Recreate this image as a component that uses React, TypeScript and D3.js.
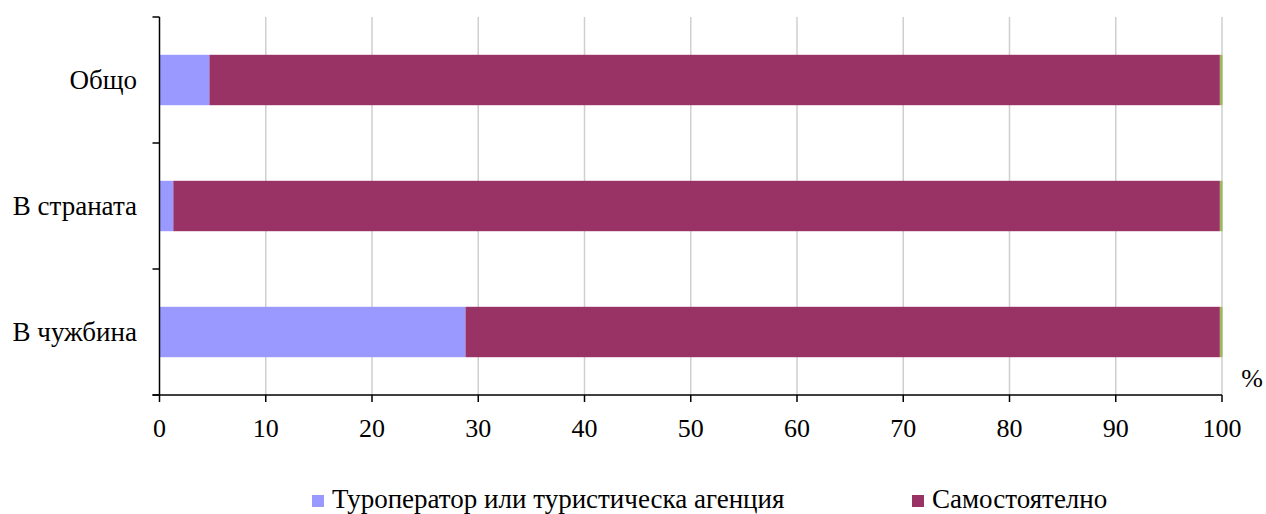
import React from "react";
import * as d3 from "d3";

const categories = ["Общо", "В страната", "В чужбина"];
const seriesNames = ["Туроператор или туристическа агенция", "Самостоятелно", "Друго"];
const touroperator = [4.7, 1.3, 28.8];
const independent = [95.1, 98.5, 71.0];
const other = [0.25, 0.25, 0.25];
const xTicks = [0, 10, 20, 30, 40, 50, 60, 70, 80, 90, 100];
const colors = ["#9999FF", "#993366", "#9BBB59"];

const W = 1266;
const H = 514;
const left = 159.5;
const right = 1222;
const top = 17;
const bottom = 395;
const FONT = "Liberation Serif";

export default function App() {
  const x = d3.scaleLinear().domain([0, 100]).range([left, right]);
  const y = d3.scaleBand<string>().domain(categories).range([top, bottom]).paddingInner(0.6).paddingOuter(0.3);
  const band = d3.scaleBand<string>().domain(categories).range([top, bottom]);
  const rows = categories.map((c, i) => ({ c, vals: [touroperator[i], independent[i], other[i]] }));
  const stacked = rows.map((r) => {
    let acc = 0;
    return r.vals.map((v, k) => {
      const s = acc;
      acc += v;
      return { cat: r.c, k, x0: s, x1: acc };
    });
  });
  const sepTicks = [top, ...categories.map((c) => (band(c) as number) + band.bandwidth())];

  return (
    <svg width={W} height={H} fontFamily={FONT} style={{ position: "absolute", left: 0, top: 0, background: "#fff" }}>
      {xTicks.slice(1).map((t) => (
        <line key={"g" + t} x1={x(t)} x2={x(t)} y1={top} y2={bottom} stroke="#cfcfcf" strokeWidth={1.5} />
      ))}
      {stacked.map((segs) =>
        segs.map((s) => (
          <rect
            key={s.cat + s.k}
            x={x(s.x0)}
            width={x(s.x1) - x(s.x0)}
            y={y(s.cat)}
            height={y.bandwidth()}
            fill={colors[s.k]}
          />
        ))
      )}
      <line x1={left} x2={left} y1={top} y2={bottom} stroke="#000" strokeWidth={1.5} />
      {sepTicks.map((t, i) => (
        <line key={"yt" + i} x1={left - 7} x2={left} y1={t} y2={t} stroke="#000" strokeWidth={1.5} />
      ))}
      <line x1={left - 7} x2={right} y1={bottom} y2={bottom} stroke="#000" strokeWidth={1.5} />
      {xTicks.map((t) => (
        <g key={"xt" + t}>
          <line x1={x(t)} x2={x(t)} y1={bottom} y2={bottom + 7} stroke="#000" strokeWidth={1.5} />
          <text x={x(t)} y={437} textAnchor="middle" fontSize={26} fill="#000" fontFamily={FONT}>
            {t}
          </text>
        </g>
      ))}
      {categories.map((c) => (
        <text key={"cl" + c} x={137} y={(y(c) as number) + y.bandwidth() / 2} dy="0.33em" textAnchor="end" fontSize={27} fill="#000" fontFamily={FONT}>
          {c}
        </text>
      ))}
      <text x={1252} y={387} textAnchor="middle" fontSize={26} fill="#000" fontFamily={FONT}>%</text>
      <rect x={312} y={495} width={12} height={12} fill={colors[0]} />
      <text x={332} y={508} fontSize={27} fill="#000" fontFamily={FONT}>{seriesNames[0]}</text>
      <rect x={912} y={495} width={12} height={12} fill={colors[1]} />
      <text x={932} y={508} fontSize={27} fill="#000" fontFamily={FONT}>{seriesNames[1]}</text>
    </svg>
  );
}
